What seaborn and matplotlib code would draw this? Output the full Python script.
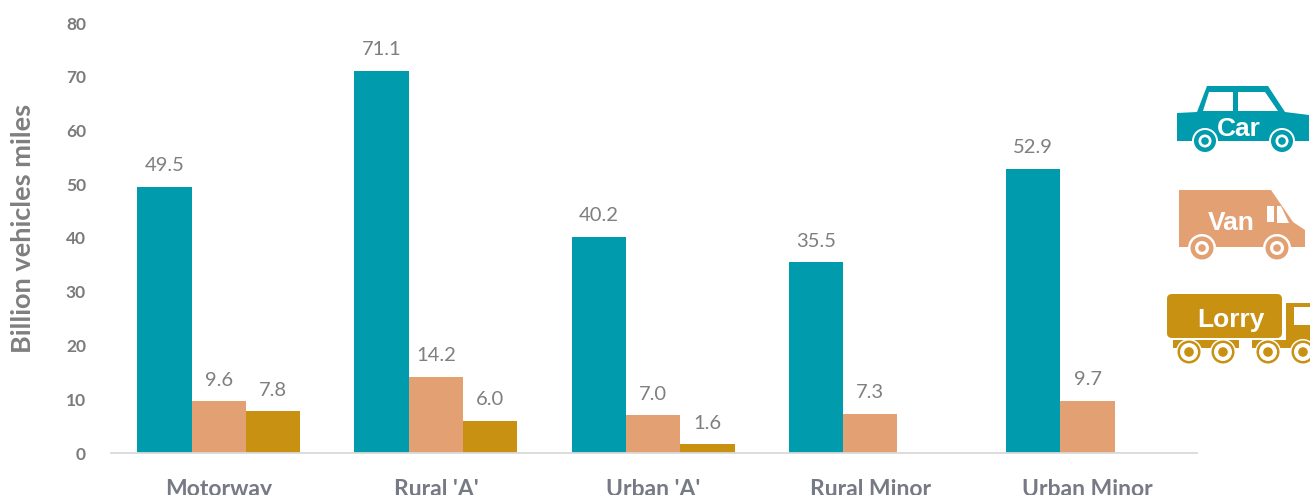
import numpy as np
import pandas as pd
import matplotlib
matplotlib.use("Agg")
import matplotlib.pyplot as plt
from matplotlib.patches import Polygon, Circle, FancyBboxPatch, Rectangle
import seaborn as sns

categories = ["Motorway", "Rural 'A'", "Urban 'A'", "Rural Minor", "Urban Minor"]
car = [49.5, 71.1, 40.2, 35.5, 52.9]
van = [9.6, 14.2, 7.0, 7.3, 9.7]
lorry = [7.8, 6.0, 1.6, np.nan, np.nan]
series = ["Car", "Van", "Lorry"]
colors = ["#009CAD", "#E3A073", "#C89112"]
yticks = [0, 10, 20, 30, 40, 50, 60, 70, 80]

sns.set_theme(style="white")
plt.rcParams["font.family"] = ["Lato", "DejaVu Sans"]

df = pd.DataFrame({"cat": categories * 3,
                   "veh": np.repeat(series, 5),
                   "val": car + van + lorry})

W, H = 1310, 495
fig = plt.figure(figsize=(W / 100, H / 100), dpi=100)
ax = fig.add_axes([111 / W, 1 - 453 / H, (1197 - 111) / W, (453 - 23) / H])
sns.barplot(data=df, x="cat", y="val", hue="veh", hue_order=series, palette=colors,
            order=categories, width=0.75, gap=0, saturation=1, legend=False, ax=ax, errorbar=None,
            linewidth=0)
GRAY = "#7F7F7F"
for c in ax.containers:
    labels = ["" if np.isnan(v) else f"{v:.1f}" for v in c.datavalues]
    ax.bar_label(c, labels=labels, padding=9, fontsize=14.5, color=GRAY, clip_on=False)
ax.set_xlim(-0.496, 4.504)
ax.set_ylim(0, 80)
ax.set_yticks(yticks)
ax.tick_params(axis="y", length=0, pad=18, labelcolor="#7B7B7B", labelsize=12.5)
ax.tick_params(axis="x", length=0, pad=19, labelcolor="#767A85", labelsize=16.5)
for t in ax.get_xticklabels() + ax.get_yticklabels():
    t.set_fontweight("bold")
ax.set_xlabel("")
ax.set_ylabel("")
fig.text(23 / W, 1 - 228 / H, "Billion vehicles miles", rotation=90, ha="center", va="center",
         fontsize=19.5, fontweight="bold", color="#7F7F7F")
for s in ["top", "right", "left"]:
    ax.spines[s].set_visible(False)
ax.spines["bottom"].set_color("#D9D9D9")
ax.spines["bottom"].set_linewidth(1.3)
ax.grid(False)

# Pictograms drawn in pixel space on an overlay
ov = fig.add_axes([0, 0, 1, 1], zorder=5)
ov.set_xlim(0, W)
ov.set_ylim(H, 0)
ov.axis("off")
ov.patch.set_alpha(0)

def wheel(x, y, col, r0, r1, r2, r3):
    for r, fc in [(r0, "white"), (r1, col), (r2, "white"), (r3, col)]:
        ov.add_patch(Circle((x, y), r, fc=fc, ec="none"))

def label(x, y, s):
    ov.text(x, y, s, color="white", fontsize=19, fontweight="bold", ha="center", va="center",
            family="Liberation Sans")

# Car
c = colors[0]
ov.add_patch(Polygon([(1197, 112), (1207, 86), (1268, 86), (1285, 112), (1309, 115), (1309, 141),
                      (1177, 141), (1177, 113)], fc=c, ec="none"))
ov.add_patch(Polygon([(1203, 111), (1209, 92), (1233, 92), (1233, 111)], fc="white", ec="none"))
ov.add_patch(Polygon([(1238, 92), (1265, 92), (1278, 111), (1238, 111)], fc="white", ec="none"))
wheel(1205, 141, c, 13, 11, 6.5, 3.8)
wheel(1282, 141, c, 13, 11, 6.5, 3.8)
label(1239, 129, "Car")

# Van
c = colors[1]
ov.add_patch(Polygon([(1179, 190), (1271, 190), (1293, 222), (1305, 230), (1305, 247), (1179, 247)],
                     fc=c, ec="none"))
ov.add_patch(Rectangle((1267, 206), 7, 16, fc="white", ec="none"))
ov.add_patch(Polygon([(1277, 206), (1281, 206), (1289, 223), (1277, 223)], fc="white", ec="none"))
wheel(1202, 248, c, 14, 11.5, 7, 3.8)
wheel(1277, 248, c, 14, 11.5, 7, 3.8)
label(1231, 223, "Van")

# Lorry
c = colors[2]
ov.add_patch(FancyBboxPatch((1170, 297), 109, 38, boxstyle="round,pad=3,rounding_size=5", fc=c, ec="none"))
ov.add_patch(Polygon([(1286, 303), (1310, 303), (1310, 348), (1252, 348), (1252, 340), (1286, 340)],
                     fc=c, ec="none"))
ov.add_patch(Rectangle((1294, 307), 16, 18, fc="white", ec="none"))
ov.add_patch(Polygon([(1173, 340), (1239, 340), (1239, 348), (1173, 348)], fc=c, ec="none"))
for x in [1189, 1223, 1268, 1303]:
    wheel(x, 352, c, 13, 11.5, 9, 4.8)
label(1231, 320, "Lorry")

fig.savefig("out.png", dpi=100)
